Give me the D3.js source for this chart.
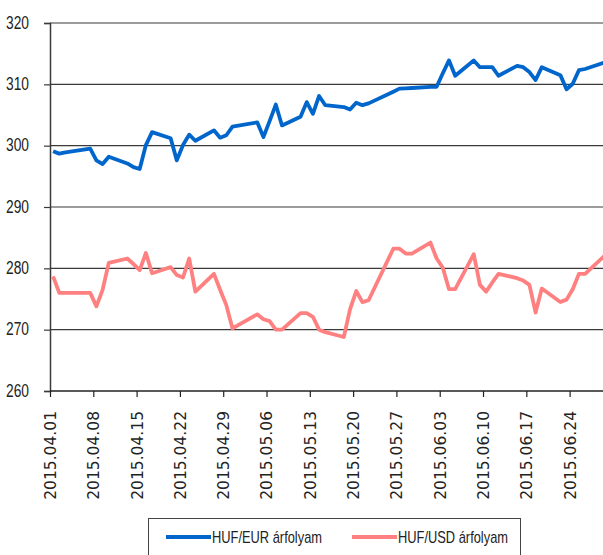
<!DOCTYPE html>
<html>
<head>
<meta charset="utf-8">
<script src="https://cdn.jsdelivr.net/npm/d3@7"></script>
<style>
  body { margin: 0; background: #fff; }
  svg { display: block; }
</style>
</head>
<body>
<div id="chart"></div>
<script>
// trading days (04.06, 05.01, 05.25 are holidays)
const dates = [
  '2015.04.01','2015.04.02','2015.04.03','2015.04.07','2015.04.08','2015.04.09','2015.04.10',
  '2015.04.13','2015.04.14','2015.04.15','2015.04.16','2015.04.17','2015.04.20','2015.04.21',
  '2015.04.22','2015.04.23','2015.04.24','2015.04.27','2015.04.28','2015.04.29','2015.04.30',
  '2015.05.04','2015.05.05','2015.05.06','2015.05.07','2015.05.08','2015.05.11','2015.05.12',
  '2015.05.13','2015.05.14','2015.05.15','2015.05.18','2015.05.19','2015.05.20','2015.05.21',
  '2015.05.22','2015.05.26','2015.05.27','2015.05.28','2015.05.29','2015.06.01','2015.06.02',
  '2015.06.03','2015.06.04','2015.06.05','2015.06.08','2015.06.09','2015.06.10','2015.06.11',
  '2015.06.12','2015.06.15','2015.06.16','2015.06.17','2015.06.18','2015.06.19','2015.06.22',
  '2015.06.23','2015.06.24','2015.06.25','2015.06.26','2015.06.29','2015.06.30'
];

const hufEur = [
  299.1, 298.7, 298.9, 299.5, 297.6, 297.0, 298.2,
  297.1, 296.5, 296.2, 300.1, 302.2, 301.2, 297.6,
  300.1, 301.8, 300.8, 302.5, 301.3, 301.7, 303.1,
  303.8, 301.4, 304.0, 306.7, 303.3, 304.7, 307.1,
  305.2, 308.1, 306.6, 306.3, 305.9, 307.0, 306.6,
  306.9, 308.8, 309.3, 309.35, 309.4, 309.6, 309.6,
  311.8, 313.9, 311.4, 313.9, 312.8, 312.8, 312.8,
  311.4, 313.0, 312.8, 312.0, 310.7, 312.8, 311.5,
  309.2, 310.1, 312.3, 312.5, 313.5, 313.8
];

const hufUsd = [
  278.7, 276.0, 276.0, 276.0, 273.8, 276.5, 280.9,
  281.6, 280.7, 279.7, 282.5, 279.2, 280.2, 278.9,
  278.5, 281.6, 276.2, 279.1, 276.5, 274.0, 270.2,
  272.5, 271.7, 271.4, 270.0, 270.0, 272.7, 272.7,
  272.1, 270.0, 269.6, 268.8, 273.3, 276.3, 274.5,
  274.8, 283.2, 283.2, 282.4, 282.4, 284.2, 281.6,
  280.1, 276.6, 276.6, 282.3, 277.3, 276.2, 277.7,
  279.1, 278.4, 278.0, 277.3, 272.8, 276.7, 274.5,
  274.9, 276.6, 279.1, 279.1, 281.9, 282.6
];

const xTickLabels = [
  '2015.04.01','2015.04.08','2015.04.15','2015.04.22','2015.04.29','2015.05.06','2015.05.13',
  '2015.05.20','2015.05.27','2015.06.03','2015.06.10','2015.06.17','2015.06.24'
];
const yTicks = [260, 270, 280, 290, 300, 310, 320];

const seriesNames = ['HUF/EUR árfolyam', 'HUF/USD árfolyam'];
const seriesColors = ['#0066cc', '#ff8080'];

const width = 603;
const height = 555;
const plot = {left: 50, top: 23, bottom: 391};
const dayWidth = 6.186;
// no narrow font installed, so squeeze text to the reference widths
const narrowFont = '"Liberation Sans", Arial, sans-serif';

const parseDay = d3.utcParse('%Y.%m.%d');
const startDay = parseDay('2015.04.01');
const endDay = parseDay('2015.07.01');

const x = d3.scaleUtc()
    .domain([startDay, endDay])
    .range([plot.left, plot.left + 91 * dayWidth]);
const y = d3.scaleLinear()
    .domain([260, 320])
    .range([plot.bottom, plot.top]);

// points sit in the middle of their day
const xMid = s => x(d3.utcHour.offset(parseDay(s), 12));

const svg = d3.select('#chart').append('svg')
    .attr('width', width)
    .attr('height', height);

// gridlines
svg.append('g')
    .selectAll('line')
    .data(yTicks.slice(1))
    .join('line')
    .attr('x1', plot.left)
    .attr('x2', width)
    .attr('y1', d => y(d))
    .attr('y2', d => y(d))
    .attr('stroke', '#3a3a3a')
    .attr('stroke-width', 1.2);

// y axis
const yAxis = svg.append('g')
    .attr('transform', `translate(${plot.left},0)`)
    .call(d3.axisLeft(y).tickValues(yTicks).tickSize(6).tickPadding(15).tickFormat(d3.format('d')));
yAxis.select('.domain').attr('stroke', '#3a3a3a').attr('stroke-width', 1.5);
yAxis.selectAll('.tick line').attr('stroke', '#3a3a3a').attr('stroke-width', 1.2);
yAxis.selectAll('.tick text')
    .attr('fill', '#222')
    .attr('dy', '0.28em')
    .attr('textLength', 23)
    .attr('lengthAdjust', 'spacingAndGlyphs')
    .style('font-family', narrowFont)
    .style('font-size', '18px');

// x axis
const xAxis = svg.append('g')
    .attr('transform', `translate(0,${plot.bottom})`)
    .call(d3.axisBottom(x)
        .tickValues(xTickLabels.map(parseDay))
        .tickSize(6)
        .tickFormat(d3.utcFormat('%Y.%m.%d')));
xAxis.select('.domain').attr('stroke', '#222').attr('stroke-width', 1.5)
    .attr('d', `M${plot.left},0H${width}`);
xAxis.selectAll('.tick line').attr('stroke', '#222').attr('stroke-width', 1.2);
xAxis.selectAll('.tick text')
    .attr('fill', '#222')
    .attr('transform', 'rotate(-90)')
    .attr('text-anchor', 'end')
    .attr('dy', '0.35em')
    .attr('x', -20)
    .attr('y', 0)
    .style('font-family', '"DejaVu Sans", Verdana, sans-serif')
    .style('font-size', '15.5px');

// lines
const line = d3.line()
    .x((d, i) => xMid(dates[i]))
    .y(d => y(d));

svg.selectAll('.series')
    .data([hufEur, hufUsd])
    .join('path')
    .attr('class', 'series')
    .attr('fill', 'none')
    .attr('stroke', (d, i) => seriesColors[i])
    .attr('stroke-width', 3.8)
    .attr('stroke-linejoin', 'round')
    .attr('d', d => line(d));

// legend
const legend = svg.append('g');
legend.append('rect')
    .attr('x', 148.5)
    .attr('y', 518.5)
    .attr('width', 372)
    .attr('height', 40)
    .attr('fill', '#fff')
    .attr('stroke', '#444')
    .attr('stroke-width', 1);

const legendX = [166, 352];
seriesNames.forEach((name, i) => {
    legend.append('line')
        .attr('x1', legendX[i])
        .attr('x2', legendX[i] + 45)
        .attr('y1', 537)
        .attr('y2', 537)
        .attr('stroke', seriesColors[i])
        .attr('stroke-width', 4);
    legend.append('text')
        .attr('x', legendX[i] + 46)
        .attr('y', 537)
        .attr('dy', '0.35em')
        .attr('fill', '#222')
        .attr('textLength', 110)
        .attr('lengthAdjust', 'spacingAndGlyphs')
        .style('font-family', narrowFont)
        .style('font-size', '17px')
        .text(name);
});
</script>
</body>
</html>
